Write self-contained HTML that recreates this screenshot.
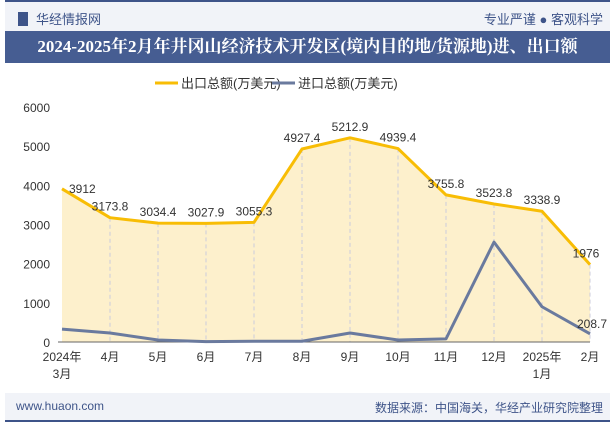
<!DOCTYPE html>
<html><head><meta charset="utf-8"><style>
body{margin:0;width:615px;height:427px;background:#fff;font-family:"Liberation Sans","Noto Sans CJK SC",sans-serif;position:relative;overflow:hidden}
.abs{position:absolute}
</style></head><body>
<div class="abs" style="left:5px;top:0;width:605px;height:32px;background:#f1f3f8;border-top:2px solid #3e5489"></div>
<div class="abs" style="left:18px;top:12px;width:10px;height:14px;background:#3e5489"></div>
<div class="abs" style="left:36px;top:9px;font-size:13px;color:#3e5489">华经情报网</div>
<div class="abs" style="right:12px;top:9px;font-size:13px;color:#3e5489">专业严谨 ● 客观科学</div>
<div class="abs" style="left:5px;top:31px;width:605px;height:32px;background:#465d92;color:#fff;font-size:17px;font-weight:bold;line-height:32px;text-align:center;font-family:'Liberation Serif','Noto Serif CJK SC',serif;white-space:nowrap">2024-2025年2月年井冈山经济技术开发区(境内目的地/货源地)进、出口额</div>
<div class="abs" style="left:5px;top:393px;width:605px;height:27px;background:#f1f3f8;border-bottom:2px solid #3e5489"></div>
<div class="abs" style="left:16px;top:399px;font-size:12px;color:#3e5489">www.huaon.com</div>
<div class="abs" style="right:12px;top:399px;font-size:12px;color:#3e5489">数据来源：中国海关，华经产业研究院整理</div>
<svg id="chart" class="abs" style="left:0;top:0" width="615" height="427"></svg>
<script>
const categories=["2024年\n3月","4月","5月","6月","7月","8月","9月","10月","11月","12月","2025年\n1月","2月"];
const exportVals=[3912,3173.8,3034.4,3027.9,3055.3,4927.4,5212.9,4939.4,3755.8,3523.8,3338.9,1976];
const importVals=[330,230,50,10,20,20,230,50,80,2550,900,208.7];
const yTicks=[0,1000,2000,3000,4000,5000,6000];
const svg=document.getElementById('chart');const NS='http://www.w3.org/2000/svg';
const x=i=>62+i*48, y=v=>342-v/6000*235;
function mk(t,a,p){const e=document.createElementNS(NS,t);for(const k in a)e.setAttribute(k,a[k]);(p||svg).appendChild(e);return e;}
let l1=mk('line',{x1:155,y1:83,x2:178,y2:83,stroke:'#f8bd05','stroke-width':3});

let t1=mk('text',{x:181,y:88,'font-size':13,fill:'#333'});t1.textContent='出口总额(万美元)';

let l2=mk('line',{x1:272,y1:83,x2:295,y2:83,stroke:'#6a7a9e','stroke-width':3});

let t2=mk('text',{x:298,y:88,'font-size':13,fill:'#333'});t2.textContent='进口总额(万美元)';

yTicks.forEach(v=>{const t=mk('text',{x:50,y:y(v)+5,'font-size':12,fill:'#333','text-anchor':'end'});t.textContent=v;
});
let d='M'+x(0)+','+y(0);exportVals.forEach((v,i)=>d+=' L'+x(i)+','+y(v));d+=' L'+x(exportVals.length-1)+','+y(0)+'Z';
const area=mk('path',{d:d,fill:'#fdf0cc'});

categories.forEach((c,i)=>{if(i>0){const g=mk('line',{x1:x(i),y1:y(exportVals[i]),x2:x(i),y2:y(0),stroke:'#ccd','stroke-dasharray':'4,3'});
}});
const ax=mk('line',{x1:58,y1:y(0),x2:x(11),y2:y(0),stroke:'#666'});

function line(vals,col,name){const p=mk('polyline',{points:vals.map((v,i)=>x(i)+','+y(v)).join(' '),fill:'none',stroke:col,'stroke-width':3,'stroke-linejoin':'round'});
}
line(exportVals,'#f8bd05','export-line');line(importVals,'#6a7a9e','import-line');
exportVals.forEach((v,i)=>{let tx=x(i),anc='middle',ty=y(v)-7;if(i==0){tx=x(0)+7;anc='start';ty=y(v)+4}if(i==11){tx=x(i)-4;}
const t=mk('text',{x:tx,y:ty,'font-size':12,fill:'#333','text-anchor':anc});t.textContent=v;
});
const il=mk('text',{x:x(11)+2,y:y(importVals[11])-6,'font-size':12,fill:'#333','text-anchor':'middle'});il.textContent=importVals[11];

categories.forEach((c,i)=>{c.split('\n').forEach((s,j)=>{const t=mk('text',{x:x(i),y:361+j*17,'font-size':12,fill:'#333','text-anchor':'middle'});t.textContent=s;
});});
</script>
</body></html>
